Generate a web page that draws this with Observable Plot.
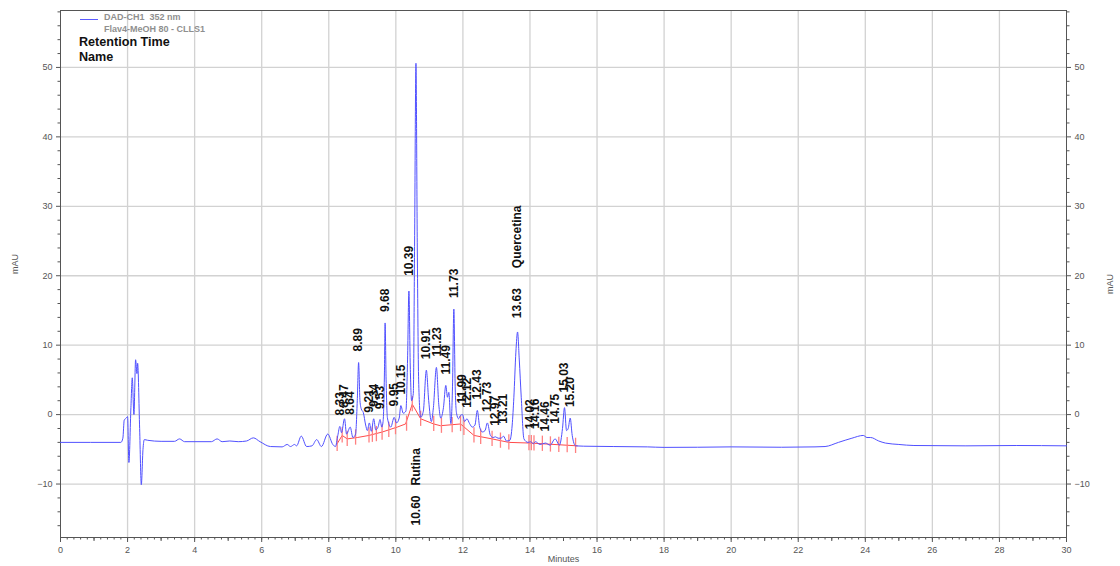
<!DOCTYPE html>
<html>
<head>
<meta charset="utf-8">
<script src="https://cdn.jsdelivr.net/npm/d3@7"></script>
<script src="https://cdn.jsdelivr.net/npm/@observablehq/plot@0.6"></script>
<style>
  body { margin: 0; background: white; font-family: "Liberation Sans", Arial, sans-serif; }
  #wrap { position: relative; width: 1120px; height: 566px; }
  .hdr { position: absolute; white-space: pre; }
</style>
</head>
<body>
<div id="wrap">
  <div id="chart"></div>
  <div class="hdr" style="left:80px;top:19px;width:18px;height:0;border-top:1px solid #5a5aff;"></div>
  <div class="hdr" style="left:104px;top:11px;font-size:9px;font-weight:bold;color:#8f8f8f;line-height:12px;">DAD-CH1  352 nm<br>Flav4-MeOH 80 - CLLS1</div>
  <div class="hdr" style="left:79px;top:35px;font-size:12.6px;font-weight:bold;color:#111;line-height:15px;">Retention Time<br>Name</div>
</div>
<script>
// ---- Chromatogram trace (time in minutes, signal in mAU) ----
const traceTime = [
  0, 1.80, 1.86, 1.90, 1.96, 2.00, 2.04, 2.10, 2.14, 2.19, 2.24, 2.28, 2.30, 2.36, 2.41, 2.46, 2.50, 2.60,
  3.00, 3.40, 3.55, 3.70, 4.50, 4.67, 4.82, 5.05, 5.30, 5.55, 5.75, 5.95, 6.26, 6.61, 6.76, 6.86, 6.98,
  7.04, 7.18, 7.34, 7.50, 7.64, 7.78, 7.97, 8.12, 8.20, 8.27, 8.33, 8.38, 8.47, 8.53, 8.64, 8.72, 8.80,
  8.85, 8.89, 8.93, 8.97, 9.03, 9.10, 9.15, 9.21, 9.27, 9.34, 9.40, 9.47, 9.53, 9.58, 9.62, 9.66, 9.68,
  9.71, 9.75, 9.85, 9.95, 10.02, 10.10, 10.15, 10.22, 10.30, 10.35, 10.39, 10.43, 10.47, 10.52, 10.56,
  10.60, 10.64, 10.68, 10.74, 10.82, 10.91, 10.98, 11.06, 11.12, 11.21, 11.28, 11.34, 11.42, 11.49,
  11.54, 11.58, 11.64, 11.69, 11.73, 11.77, 11.81, 11.87, 11.93, 11.99, 12.05, 12.12, 12.20, 12.28,
  12.36, 12.43, 12.50, 12.58, 12.66, 12.73, 12.82, 12.90, 12.97, 13.05, 13.14, 13.21, 13.30, 13.40,
  13.47, 13.52, 13.58, 13.63, 13.68, 13.74, 13.82, 13.94, 14.02, 14.10, 14.16, 14.30, 14.46, 14.60,
  14.75, 14.88, 14.97, 15.03, 15.09, 15.14, 15.20, 15.26, 15.36, 15.60, 16.50, 17.50, 18.00, 19.00,
  20.00, 21.50, 22.50, 22.80, 23.20, 23.60, 23.94, 24.05, 24.16, 24.40, 24.60, 25.00, 25.45, 27.00,
  28.50, 30.00
];
const traceSignal = [
  -4.0, -4.0, -3.4, -0.8, -0.5, -0.3, -6.9, 1.0, 5.3, 0.0, 7.9, 5.9, 7.4, -2.0, -10.1, -5.0, -3.6, -3.7,
  -3.85, -3.85, -3.5, -3.9, -3.9, -3.5, -3.9, -3.8, -3.9, -3.8, -3.35, -3.9, -4.6, -4.65, -4.3, -4.6, -4.3,
  -4.5, -3.1, -4.6, -4.5, -3.6, -4.6, -2.8, -4.3, -4.6, -3.0, -1.7, -2.6, -0.6, -2.8, -1.8, -3.3, -2.8,
  2.0, 7.5, 2.0, 0.8, 0.3, -1.5, -2.3, -1.2, -2.4, -0.6, -2.2, -1.8, -0.7, -1.8, -1.0, 6.0, 13.2,
  5.0, -0.5, -1.8, -0.4, -1.2, -0.5, 1.3, 0.2, 0.5, 8.0, 17.8, 7.0, 2.0, 3.0, 25.0,
  50.6, 24.0, 5.0, -0.4, 0.5, 6.4, 2.0, -1.0, 1.0, 6.8, 1.5, -0.5, 1.0, 4.2,
  2.5, 3.2, -1.3, 4.0, 15.2, 4.0, 0.2, -0.6, -0.1, 0.0, -1.0, -0.6, -1.3, -1.8,
  -1.5, 0.6, -1.8, -2.5, -2.3, -1.2, -3.0, -3.3, -3.2, -3.4, -3.4, -3.1, -3.8, -3.7,
  -1.5, 2.5, 9.0, 11.9, 8.0, 2.5, -3.5, -4.0, -3.9, -4.2, -3.9, -4.3, -4.1, -4.4,
  -3.5, -4.4, -2.0, 1.0, -2.3, -2.0, -0.5, -3.0, -4.5, -4.55, -4.6, -4.65, -4.72, -4.7,
  -4.65, -4.7, -4.65, -4.6, -4.0, -3.4, -3.0, -3.3, -3.3, -3.8, -4.1, -4.3, -4.45, -4.5,
  -4.45, -4.5
];

// ---- Integration baseline (red) ----
const baseTime   = [8.25, 8.40, 8.55, 8.85, 9.20, 9.60, 10.04, 10.29, 10.49, 10.74, 11.13, 11.33, 11.93, 12.33, 12.87, 13.37, 14.02, 15.41];
const baseSignal = [-4.2, -3.0, -3.5, -3.3, -3.0, -2.5, -1.8, -1.35, 1.5, -0.6, -1.35, -1.6, -1.35, -3.0, -3.5, -4.0, -4.1, -4.5];

// ---- Peak start/end marks on the baseline ----
const markTime  = [8.25, 8.40, 8.55, 8.80, 9.20, 9.30, 9.42, 9.59, 9.79, 9.99, 10.32, 10.49, 10.74, 11.13, 11.36, 11.68, 11.93, 12.03, 12.33, 12.53, 12.87, 13.12, 13.37, 13.97, 14.04, 14.12, 14.37, 14.61, 14.86, 15.11, 15.36];
const markLevel = [-4.2, -3.0, -3.5, -3.3, -3.0, -2.9, -2.8, -2.6, -2.2, -1.8, -1.3, 1.5, -0.6, -1.35, -1.6, -1.5, -1.35, -1.9, -3.0, -3.2, -3.5, -3.75, -4.0, -4.1, -4.1, -4.15, -4.2, -4.3, -4.35, -4.4, -4.5];

// ---- Labelled peaks ----
const peakRT     = [8.33, 8.47, 8.64, 8.89, 9.21, 9.34, 9.53, 9.68, 9.95, 10.15, 10.39, 10.91, 11.23, 11.49, 11.73, 11.99, 12.12, 12.43, 12.73, 12.97, 13.21, 13.63, 14.02, 14.16, 14.46, 14.75, 15.03, 15.20];
const peakHeight = [-1.7, -0.6, -1.6, 7.5, -1.3, -0.5, -0.8, 13.2, -0.4, 1.3, 18.4, 6.4, 6.8, 4.2, 15.2, 0.0, -0.6, 0.6, -1.2, -3.2, -2.9, 12.3, -3.7, -3.6, -4.0, -2.9, 1.6, -0.5];
const peakName   = {13.63: "Quercetina"};
const bottomPeakRT = [10.60];
const bottomPeakName = ["Rutina"];

// ---- Axis ticks ----
const xMajorTicks = [0, 2, 4, 6, 8, 10, 12, 14, 16, 18, 20, 22, 24, 26, 28, 30];
const xMidTicks = [1, 3, 5, 7, 9, 11, 13, 15, 17, 19, 21, 23, 25, 27, 29];
const xMinorTicks = d3.range(0, 150).map(i => i / 5);
const yMajorTicks = [-10, 0, 10, 20, 30, 40, 50];
const yMinorTicks = [-16, -14, -12, -8, -6, -4, -2, 2, 4, 6, 8, 12, 14, 16, 18, 22, 24, 26, 28, 32, 34, 36, 38, 42, 44, 46, 48, 52, 54, 56, 58];

const trace = traceTime.map((t, i) => ({t, v: traceSignal[i]}));
const base = baseTime.map((t, i) => ({t, v: baseSignal[i]}));
const marks = markTime.map((t, i) => ({t, v: markLevel[i]}));
const peaks = peakRT.map((rt, i) => ({rt, h: peakHeight[i], label: rt.toFixed(2) + (peakName[rt] ? "\u00a0\u00a0\u00a0\u00a0\u00a0\u00a0" + peakName[rt] : "")}));
const bottomPeaks = bottomPeakRT.map((rt, i) => ({rt, label: rt.toFixed(2) + "\u00a0\u00a0\u00a0" + bottomPeakName[i]}));

const gridStyle = {stroke: "#d2d2d2", strokeOpacity: 1, strokeWidth: 1.3};
const axisStyle = {stroke: "#555", fill: "#555", fontSize: 9};
const blank = () => "";

const chart = Plot.plot({
  width: 1120,
  height: 566,
  marginLeft: 60,
  marginRight: 54,
  marginTop: 10,
  marginBottom: 29,
  x: {domain: [0, 30]},
  y: {domain: [-17.7, 58.2]},
  style: {fontFamily: "'Liberation Sans', Arial, sans-serif", fontSize: "9px", color: "#555", background: "white"},
  marks: [
    Plot.gridX(xMajorTicks.filter(d => d > 0 && d < 30), gridStyle),
    Plot.gridY(yMajorTicks, gridStyle),
    Plot.axisX(xMajorTicks, {...axisStyle, anchor: "bottom", tickSize: 5, tickPadding: 4, label: null}),
    Plot.axisX(xMidTicks, {...axisStyle, anchor: "bottom", tickSize: 4, tickFormat: blank, label: null}),
    Plot.axisX(xMinorTicks, {...axisStyle, anchor: "bottom", tickSize: 2.5, tickFormat: blank, label: null}),
    Plot.axisY(yMajorTicks, {...axisStyle, anchor: "left", tickSize: 4, tickPadding: 4, label: null}),
    Plot.axisY(yMinorTicks, {...axisStyle, anchor: "left", tickSize: 2.5, tickFormat: blank, label: null}),
    Plot.axisY(yMajorTicks, {...axisStyle, anchor: "right", tickSize: 4, tickPadding: 4, label: null}),
    Plot.axisY(yMinorTicks, {...axisStyle, anchor: "right", tickSize: 2.5, tickFormat: blank, label: null}),
    Plot.frame({stroke: "#555"}),
    Plot.line(base, {x: "t", y: "v", stroke: "#ff4a4a", strokeWidth: 1}),
    Plot.ruleX(marks, {x: "t", y1: d => d.v - 1.1, y2: d => d.v + 1.1, stroke: "#ff8080", strokeWidth: 1.3}),
    Plot.line(trace, {x: "t", y: "v", stroke: "#5050ff", strokeWidth: 1, curve: "monotone-x"}),
    Plot.text(peaks, {x: "rt", y: "h", text: "label", rotate: -90, textAnchor: "start", lineAnchor: "middle", dy: -11, fontWeight: "bold", fontSize: 12, fill: "#111"}),
    Plot.text(bottomPeaks, {x: "rt", frameAnchor: "bottom", text: "label", rotate: -90, textAnchor: "start", lineAnchor: "middle", dy: -12, fontWeight: "bold", fontSize: 12, fill: "#111"}),
    Plot.text(["mAU"], {frameAnchor: "left", dx: -45, rotate: -90, fontSize: 9, fill: "#555"}),
    Plot.text(["mAU"], {frameAnchor: "right", dx: 44, rotate: -90, fontSize: 9, fill: "#555"}),
    Plot.text(["Minutes"], {frameAnchor: "bottom", dy: 24, fontSize: 9, fill: "#555"})
  ]
});
document.getElementById("chart").appendChild(chart);
</script>
</body>
</html>
